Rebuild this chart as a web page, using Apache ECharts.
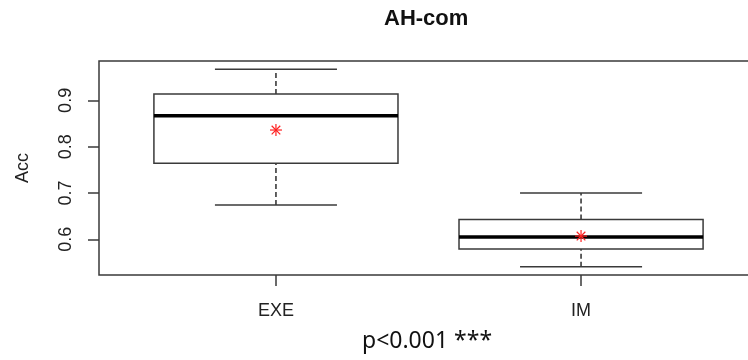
<!DOCTYPE html>
<html>
<head>
<meta charset="utf-8">
<script src="https://cdn.jsdelivr.net/npm/echarts@6/dist/echarts.min.js"></script>
<style>
  html, body { margin: 0; padding: 0; background: #fff; }
  #main { width: 748px; height: 360px; }
</style>
</head>
<body>
<div id="main"></div>
<script>
// box statistics
var categories = ['EXE', 'IM'];
var whiskerLow = [0.674, 0.541];
var q1 = [0.764, 0.579];
var median = [0.867, 0.605];
var q3 = [0.914, 0.643];
var whiskerHigh = [0.967, 0.700];
var means = [0.836, 0.607];
var yTicks = [0.6, 0.7, 0.8, 0.9];
var xTicks = [1, 2];

var boxData = [];
var meanData = [];
for (var i = 0; i < categories.length; i++) {
    boxData.push([i + 1, whiskerLow[i], q1[i], median[i], q3[i], whiskerHigh[i]]);
    meanData.push([i + 1, means[i]]);
}

var lineCol = '#3a3a3a';
var textCol = '#222';
var font = 'Liberation Sans, Arial, sans-serif';

var myChart = echarts.init(document.getElementById('main'));

function renderBox(params, api) {
    var x = api.value(0);
    var lo = api.coord([x, api.value(1)]);
    var b1 = api.coord([x, api.value(2)]);
    var md = api.coord([x, api.value(3)]);
    var b3 = api.coord([x, api.value(4)]);
    var hi = api.coord([x, api.value(5)]);
    var left = api.coord([x - 0.4, 0])[0];
    var right = api.coord([x + 0.4, 0])[0];
    var capL = api.coord([x - 0.2, 0])[0];
    var capR = api.coord([x + 0.2, 0])[0];
    var solid = {stroke: lineCol, lineWidth: 1.5};
    var dashed = {stroke: lineCol, lineWidth: 1.6, lineDash: [5, 3]};
    return {
        type: 'group',
        children: [
            {type: 'line', shape: {x1: lo[0], y1: lo[1], x2: lo[0], y2: b1[1]}, style: dashed},
            {type: 'line', shape: {x1: hi[0], y1: b3[1], x2: hi[0], y2: hi[1]}, style: dashed},
            {type: 'line', shape: {x1: capL, y1: lo[1], x2: capR, y2: lo[1]}, style: solid},
            {type: 'line', shape: {x1: capL, y1: hi[1], x2: capR, y2: hi[1]}, style: solid},
            {type: 'rect', shape: {x: left, y: b3[1], width: right - left, height: b1[1] - b3[1]},
                style: {fill: 'none', stroke: lineCol, lineWidth: 1.5}},
            {type: 'line', shape: {x1: left, y1: md[1], x2: right, y2: md[1]},
                style: {stroke: '#000', lineWidth: 3.5}}
        ]
    };
}

function renderStar(params, api) {
    var p = api.coord([api.value(0), api.value(1)]);
    var r = 6, d = 4.3;
    var st = {stroke: '#ff2020', lineWidth: 1.2};
    return {
        type: 'group',
        children: [
            {type: 'line', shape: {x1: p[0] - r, y1: p[1], x2: p[0] + r, y2: p[1]}, style: st},
            {type: 'line', shape: {x1: p[0], y1: p[1] - r, x2: p[0], y2: p[1] + r}, style: st},
            {type: 'line', shape: {x1: p[0] - d, y1: p[1] - d, x2: p[0] + d, y2: p[1] + d}, style: st},
            {type: 'line', shape: {x1: p[0] - d, y1: p[1] + d, x2: p[0] + d, y2: p[1] - d}, style: st}
        ]
    };
}

var option = {
    animation: false,
    backgroundColor: '#fff',
    grid: {
        left: 99,
        top: 61,
        width: 659,
        height: 214,
        outerBoundsMode: 'none',
        containLabel: false,
        show: true,
        borderColor: lineCol,
        borderWidth: 1.5,
        backgroundColor: 'transparent'
    },
    graphic: [
        {
            type: 'text', left: 428 - 44, top: 8,
            style: {text: 'AH-com', font: 'bold 22px ' + font, fill: '#111'}
        },
        {
            type: 'text', left: 362, top: 330,
            style: {text: 'p<0.001 ***', font: '23px "Noto Sans", sans-serif', fill: '#111'}
        }
    ],
    xAxis: {
        type: 'value',
        min: 0.42,
        max: 2.58,
        splitLine: {show: false},
        axisLine: {show: false},
        axisTick: {show: true, length: 11, customValues: xTicks, lineStyle: {color: lineCol, width: 1.5}},
        axisLabel: {
            customValues: xTicks,
            margin: 27,
            color: textCol,
            fontSize: 18,
            fontFamily: font,
            formatter: function (v) { return categories[Math.round(v) - 1] || ''; }
        }
    },
    yAxis: {
        type: 'value',
        min: 0.523,
        max: 0.985,
        name: 'Acc',
        nameLocation: 'middle',
        nameGap: 67,
        nameTextStyle: {color: textCol, fontSize: 18, fontFamily: font},
        splitLine: {show: false},
        axisLine: {show: false},
        axisTick: {show: true, length: 11, customValues: yTicks, lineStyle: {color: lineCol, width: 1.5}},
        axisLabel: {
            customValues: yTicks,
            rotate: 90,
            margin: 24,
            color: textCol,
            fontSize: 18,
            fontFamily: font,
            formatter: function (v) { return v.toFixed(1); }
        }
    },
    series: [
        {
            type: 'custom',
            renderItem: renderBox,
            encode: {x: 0, y: [1, 2, 3, 4, 5]},
            data: boxData,
            z: 2
        },
        {
            type: 'custom',
            renderItem: renderStar,
            encode: {x: 0, y: 1},
            data: meanData,
            z: 3
        }
    ]
};

myChart.setOption(option);
</script>
</body>
</html>
